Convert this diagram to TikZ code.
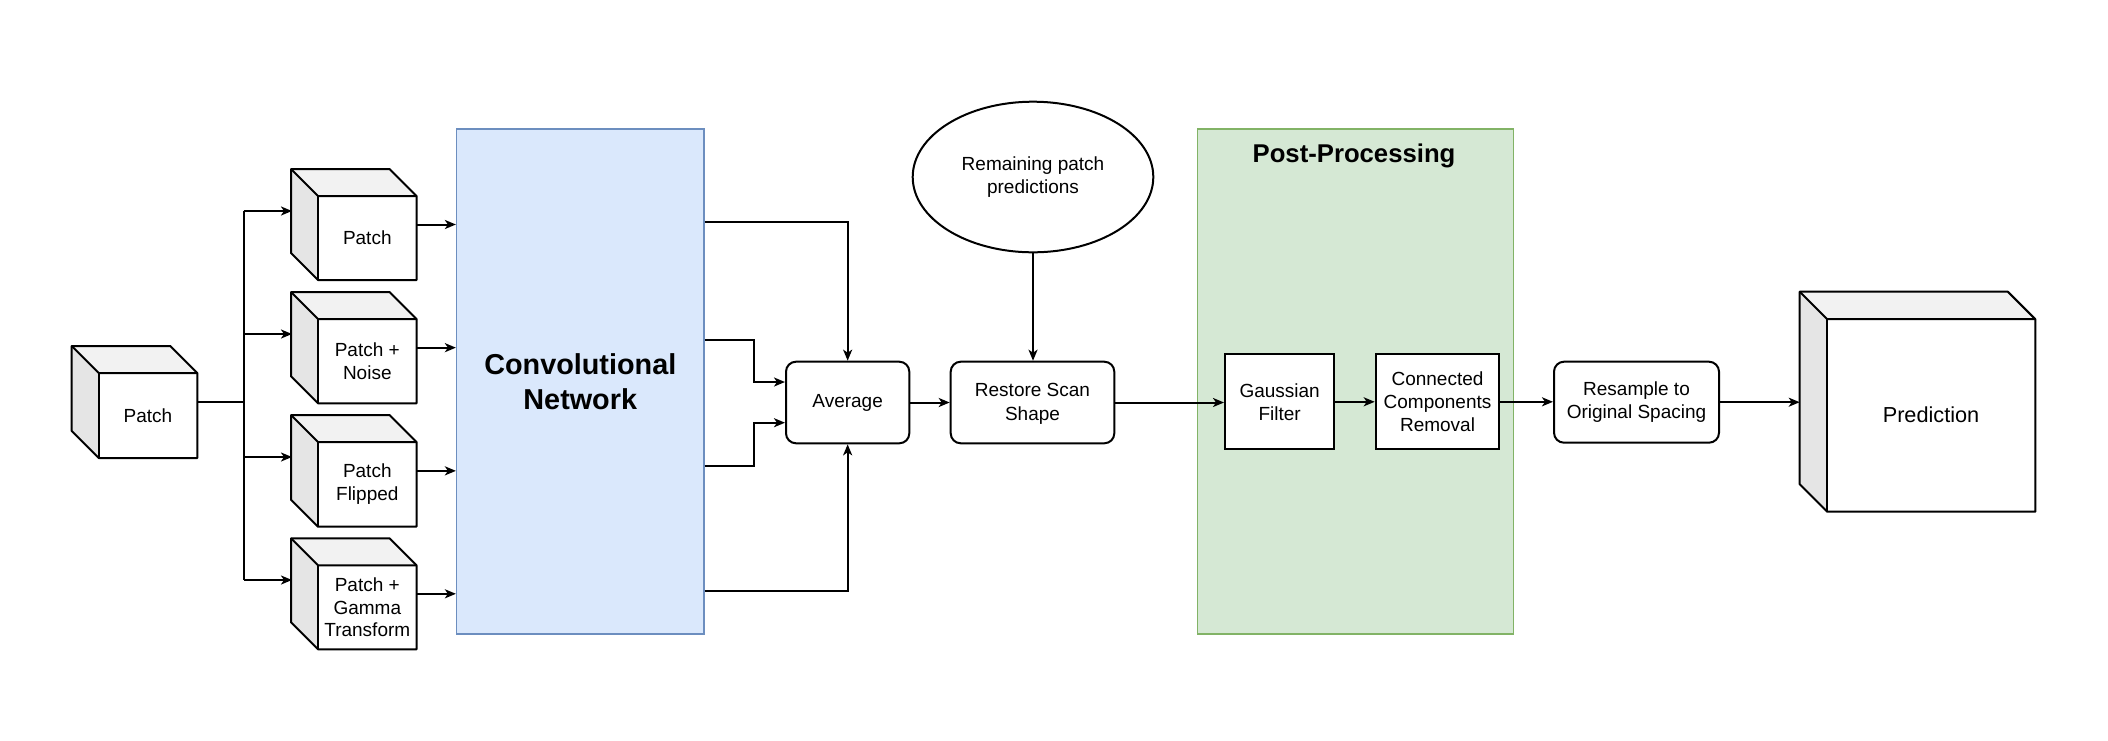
\documentclass[tikz,border=0pt]{standalone}
\usepackage{fontspec}
\setmainfont{Liberation Sans}
\usetikzlibrary{arrows.meta,fit,calc,shapes.geometric}
\definecolor{convfill}{HTML}{DAE8FC}
\definecolor{convdraw}{HTML}{6C8EBF}
\definecolor{ppfill}{HTML}{D5E8D4}
\definecolor{ppdraw}{HTML}{82B366}
\newcommand\drawcubefaces[2]{%
  \fill[cubetop] (#1.north west) -- ($(#1.north east)+(-#2,0)$) -- ($(#1.north east)+(0,#2)$) -- ($(#1.north west)+(#2,#2)$) -- cycle;
  \fill[cubeside] (#1.north west) -- ($(#1.north west)+(#2,#2)$) -- ($(#1.south west)+(#2,0)$) -- ($(#1.south west)+(0,-#2)$) -- cycle;
  \fill[white] ($(#1.north west)+(#2,#2)$) rectangle (#1.south east);
  \draw[line join=round] (#1.north west) -- ($(#1.north east)+(-#2,0)$) -- ($(#1.north east)+(0,#2)$) -- (#1.south east) -- ($(#1.south west)+(#2,0)$) -- ($(#1.south west)+(0,-#2)$) -- cycle;
  \draw (#1.north west) -- ($(#1.north west)+(#2,#2)$) -- ($(#1.north east)+(0,#2)$);
  \draw ($(#1.north west)+(#2,#2)$) -- ($(#1.south west)+(#2,0)$);
}
\begin{document}
\begin{tikzpicture}[x=0.5pt,y=-0.5pt,line width=1pt,
  arr/.style={-{Stealth[length=5.5pt,width=4.5pt,inset=1.5pt]}},
  lbl/.style={font=\fontsize{9.5}{11.4}\selectfont,align=center,inner sep=0},
  boxn/.style={draw,inner sep=0,font=\fontsize{9.5}{11.4}\selectfont,align=center,fill=white},
  rbox/.style={boxn,rounded corners=5pt},
  group/.style={inner sep=0,line width=0.6pt,minimum height=252.5pt},
  ghost/.style={inner sep=0,draw=none},
  cubetop/.style={fill=black!5},
  cubeside/.style={fill=black!10}]
\useasboundingbox (0,0) rectangle (2108,740);

% background groups
\node[group,draw=convdraw,fill=convfill,minimum width=123.75pt,
      font=\fontsize{14.4}{17.5}\selectfont\bfseries,align=center] (conv) at (580.25,381.5) {Convolutional\\Network};
\node[group,draw=ppdraw,fill=ppfill,minimum width=158pt] (pp) at (1355.3,381.5) {};
\node[font=\fontsize{12.85}{15}\selectfont\bfseries,inner sep=0] (ppT) at (1354,156) {Post-Processing};

% cubes
\node[ghost,fit={(72.7,347) (196.3,457)}] (in) {};
\node[ghost,fit={(292,170) (415.5,279)}] (c1) {};
\node[ghost,fit={(292,293) (415.5,402.3)}] (c2) {};
\node[ghost,fit={(292,416) (415.5,525.7)}] (c3) {};
\node[ghost,fit={(292,539.3) (415.5,648.3)}] (c4) {};
\node[ghost,fit={(1800.7,292.7) (2034.3,510.7)}] (pred) {};
\drawcubefaces{in}{27}
\drawcubefaces{c1}{27}
\drawcubefaces{c2}{27}
\drawcubefaces{c3}{27}
\drawcubefaces{c4}{27}
\drawcubefaces{pred}{27.5}
\node[lbl] (inT) at (148,415.5) {Patch};
\node[lbl] (c1T) at (367.3,238) {Patch};
\node[lbl] (c2T) at (367.3,361) {Patch +\\Noise};
\node[lbl] (c3T) at (367.3,484.3) {Patch\\Flipped};
\node[lbl] (c4T) at (367.3,607.3) {Patch +\\Gamma\\Transform};
\node[font=\fontsize{10.85}{13}\selectfont,inner sep=0] (predT) at (1931,415) {Prediction};

% process boxes
\node[rbox,minimum width=61.65pt,minimum height=40.8pt] (avg) at (847.65,402.5) {Average};
\node[rbox,minimum width=81.8pt,minimum height=40.8pt,font=\fontsize{9.5}{12}\selectfont] (rs) at (1032.5,402.5) {\raisebox{0pt}[\height][\depth]{}\strut Restore Scan\\Shape};
\node[boxn,ellipse,minimum width=120.3pt,minimum height=75.3pt] (rem) at (1033,177) {Remaining patch\\predictions};
\node[boxn,minimum width=54.65pt,minimum height=47.5pt] (gf) at (1279.65,401.8) {Gaussian\\Filter};
\node[boxn,minimum width=61.8pt,minimum height=47.5pt] (cc) at (1437.5,401.8) {Connected\\Components\\Removal};
\node[rbox,minimum width=82.5pt,minimum height=40.5pt] (rsm) at (1636.5,402.2) {Resample to\\Original Spacing};

% branching
\coordinate (br) at (243.5,402);
\coordinate (c1in) at (292,211);
\coordinate (c2in) at (292,334);
\coordinate (c3in) at (292,457);
\coordinate (c4in) at (292,580);
\draw (in.east) -- (br);
\draw (br |- c1in) -- (br |- c4in);
\foreach \c in {c1in,c2in,c3in,c4in}{\draw[arr] (br |- \c) -- (\c);}
\foreach \c in {c1,c2,c3,c4}{\draw[arr] (\c.east) -- (conv.west |- \c.east);}

% conv outputs to average
\coordinate (mid) at (754,0);
\draw[arr] (conv.east |- 0,222) -| (avg.north);
\draw[arr] (conv.east |- 0,340) -- (mid |- 0,340) |- (avg.west |- 0,382);
\draw[arr] (conv.east |- 0,466) -- (mid |- 0,466) |- (avg.west |- 0,422.7);
\draw[arr] (conv.east |- 0,591) -| (avg.south);

% main chain
\draw[arr] (avg.east) -- (rs.west);
\draw[arr] (rem.south) -- (rem.south |- rs.north);
\draw[arr] (rs.east) -- (rs.east -| gf.west);
\draw[arr] (gf.east) -- (cc.west);
\draw[arr] (cc.east) -- (cc.east -| rsm.west);
\draw[arr] (rsm.east) -- (rsm.east -| pred.west);
\end{tikzpicture}
\end{document}
